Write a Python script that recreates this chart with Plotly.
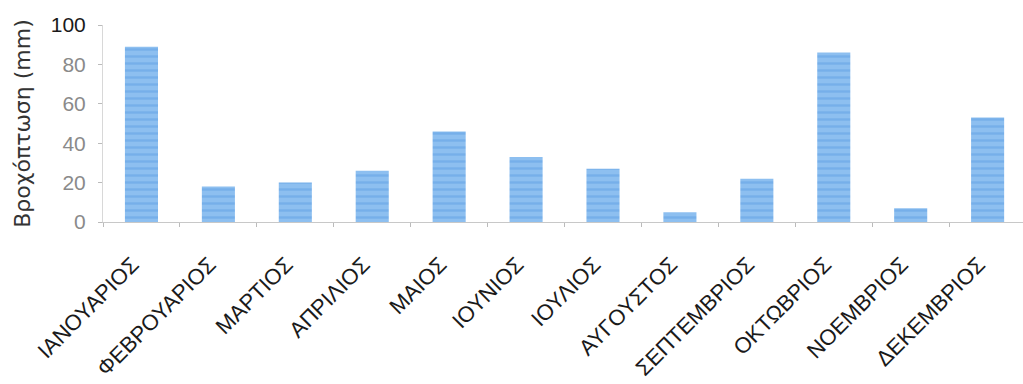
import plotly.graph_objects as go

months = ["ΙΑΝΟΥΑΡΙΟΣ", "ΦΕΒΡΟΥΑΡΙΟΣ", "ΜΑΡΤΙΟΣ", "ΑΠΡΙΛΙΟΣ", "ΜΑΙΟΣ", "ΙΟΥΝΙΟΣ",
          "ΙΟΥΛΙΟΣ", "ΑΥΓΟΥΣΤΟΣ", "ΣΕΠΤΕΜΒΡΙΟΣ", "ΟΚΤΩΒΡΙΟΣ", "ΝΟΕΜΒΡΙΟΣ", "ΔΕΚΕΜΒΡΙΟΣ"]
rainfall_mm = [89, 18, 20, 26, 46, 33, 27, 5, 22, 86, 7, 53]
y_ticks = [0, 20, 40, 60, 80, 100]

# top label drawn darker than the rest
y_ticktext = [f"<span style='color:#1a1a1a'>{v}</span>" if v == 100 else str(v) for v in y_ticks]

fig = go.Figure(go.Bar(
    x=months,
    y=rainfall_mm,
    marker=dict(
        color="#8dbff0",
        line=dict(width=0),
        pattern=dict(shape="-", fgcolor="#5f9fe4", size=7, solidity=0.35),
    ),
    width=0.43,
))

fig.update_layout(
    width=1023, height=384,
    margin=dict(l=103, r=0, t=25, b=162),
    paper_bgcolor="white", plot_bgcolor="white",
    font=dict(family="Liberation Sans, Arial, sans-serif", size=20, color="#222222"),
    showlegend=False,
)

fig.update_xaxes(
    type="category",
    range=[-0.5, 11.46],
    automargin=False,
    tickangle=-45,
    tickson="boundaries",
    ticks="outside", ticklen=4, tickcolor="#bbbbbb",
    ticklabelstandoff=20,
    ticklabelshift=-9,
    showline=True, linecolor="#c8c8c8", linewidth=1,
    showgrid=False,
    tickfont=dict(size=22, color="#1a1a1a"),
)

fig.update_yaxes(
    range=[0, 100],
    tickvals=y_ticks,
    ticktext=y_ticktext,
    ticks="outside", ticklen=4, tickcolor="#bbbbbb",
    ticklabelstandoff=8,
    showline=True, linecolor="#d8d8d8", linewidth=1,
    showgrid=False, zeroline=False,
    tickfont=dict(size=21, color="#8a8a8a"),
    title=dict(text="Βροχόπτωση (mm)",
               font=dict(family="DejaVu Sans, sans-serif", size=22, color="#333333"),
               standoff=14),
)

fig.write_html("out.html")
